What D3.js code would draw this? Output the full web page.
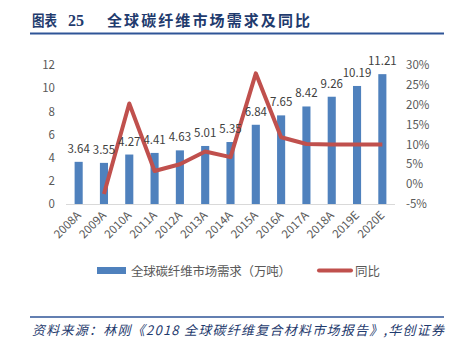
<!DOCTYPE html>
<html><head><meta charset="utf-8">
<script src="https://cdn.jsdelivr.net/npm/d3@7"></script>
<style>body{margin:0;background:#fff;}svg{display:block;}</style>
</head><body>
<svg id="c" width="451" height="344"></svg>
<script>
const categories = ["2008A","2009A","2010A","2011A","2012A","2013A","2014A","2015A","2016A","2017A","2018A","2019E","2020E"];
const demand = [3.64,3.55,4.27,4.41,4.63,5.01,5.35,6.84,7.65,8.42,9.26,10.19,11.21];
const yoy = [null,-2.5,20.3,3.3,5.0,8.2,6.8,27.9,11.8,10.1,10.0,10.0,10.0];
const leftTicks = [0,2,4,6,8,10,12];
const rightTicks = [-5,0,5,10,15,20,25,30];
const titlePrefix = "图表";
const titleNum = "25";
const titleText = "全球碳纤维市场需求及同比";
const sourceText = "资料来源：林刚《2018 全球碳纤维复合材料市场报告》,华创证券";
const legendBar = "全球碳纤维市场需求（万吨）";
const legendLine = "同比";

const svg = d3.select("#c");
const font = "'Noto Sans CJK SC', 'Noto Sans', sans-serif";
const navy = "#1f3b6e";
const gray = "#595959";

// title
const tg = svg.append("g").attr("font-family",font).attr("font-weight","bold").attr("font-size",15).attr("fill",navy);
tg.append("text").attr("x",32).attr("y",25.5).attr("textLength",25).attr("lengthAdjust","spacingAndGlyphs").text(titlePrefix);
tg.append("text").attr("x",68).attr("y",25.5).attr("font-family","'Liberation Serif', serif").attr("font-size",16).text(titleNum);
tg.append("text").attr("x",107).attr("y",25.5).attr("textLength",203).attr("lengthAdjust","spacing").text(titleText);
svg.append("line").attr("x1",30).attr("x2",444).attr("y1",33.5).attr("y2",33.5).attr("stroke","#2f5597").attr("stroke-width",2);

const x = d3.scaleBand().domain(categories).range([66,395]).paddingInner(0.68).paddingOuter(0.34);
const yL = d3.scaleLinear().domain([0,12]).range([204,65]);
const yR = d3.scaleLinear().domain([-5,30]).range([204,65]);

// bars
svg.append("g").selectAll("rect").data(demand).join("rect")
  .attr("x",(d,i)=>x(categories[i])).attr("width",x.bandwidth())
  .attr("y",d=>yL(d)).attr("height",d=>yL(0)-yL(d)).attr("fill","#4f81bd");

// axis baseline
svg.append("line").attr("x1",66).attr("x2",395).attr("y1",204.5).attr("y2",204.5).attr("stroke","#d9d9d9").attr("stroke-width",1);

// left axis
const la = svg.append("g").attr("transform","translate(55,0)").call(d3.axisLeft(yL).tickValues(leftTicks).tickSize(0).tickPadding(0));
la.select(".domain").remove();
la.selectAll("text").attr("font-family",font).attr("font-size",11.5).attr("fill",gray);

// right axis
const ra = svg.append("g").attr("transform","translate(406,0)").call(d3.axisRight(yR).tickValues(rightTicks).tickSize(0).tickPadding(0).tickFormat(d=>d+"%"));
ra.select(".domain").remove();
ra.selectAll("text").attr("font-family",font).attr("font-size",11.5).attr("fill",gray);

// x labels
svg.append("g").selectAll("text").data(categories).join("text")
  .attr("transform",d=>`translate(${x(d)+x.bandwidth()/2+3},${216}) rotate(-45)`)
  .attr("text-anchor","end").attr("font-family",font).attr("font-size",11.5).attr("fill",gray).text(d=>d);

// line
const cx = d=>x(d)+x.bandwidth()/2;
const pts = categories.map((c,i)=>[c,yoy[i]]).filter(p=>p[1]!==null);
svg.append("path").datum(pts)
  .attr("d",d3.line().x(p=>cx(p[0])).y(p=>yR(p[1])))
  .attr("fill","none").attr("stroke","#c0504d").attr("stroke-width",4).attr("stroke-linejoin","round");

// data labels
svg.append("g").selectAll("text").data(demand).join("text")
  .attr("x",(d,i)=>cx(categories[i])).attr("y",d=>yL(d)-9)
  .attr("text-anchor","middle").attr("font-family",font).attr("font-size",11.5).attr("fill","#404040").text(d=>d.toFixed(2));

// legend
svg.append("rect").attr("x",97).attr("y",267).attr("width",29).attr("height",7).attr("fill","#4f81bd");
svg.append("text").attr("x",131).attr("y",275.5).attr("font-family",font).attr("font-size",12.5).attr("fill",gray)
  .attr("textLength",160).attr("lengthAdjust","spacing").text(legendBar);
svg.append("line").attr("x1",319).attr("x2",351).attr("y1",270.5).attr("y2",270.5).attr("stroke","#c0504d").attr("stroke-width",4).attr("stroke-linecap","round");
svg.append("text").attr("x",355).attr("y",275.5).attr("font-family",font).attr("font-size",12.5).attr("fill",gray).text(legendLine);

// footer
svg.append("line").attr("x1",30).attr("x2",444).attr("y1",317).attr("y2",317).attr("stroke","#2f5597").attr("stroke-width",1.5);
svg.append("text").attr("x",32).attr("y",335).attr("font-family",font).attr("font-style","italic")
  .attr("font-size",13).attr("fill",navy).attr("textLength",412).attr("lengthAdjust","spacing").text(sourceText);
</script>
</body></html>
